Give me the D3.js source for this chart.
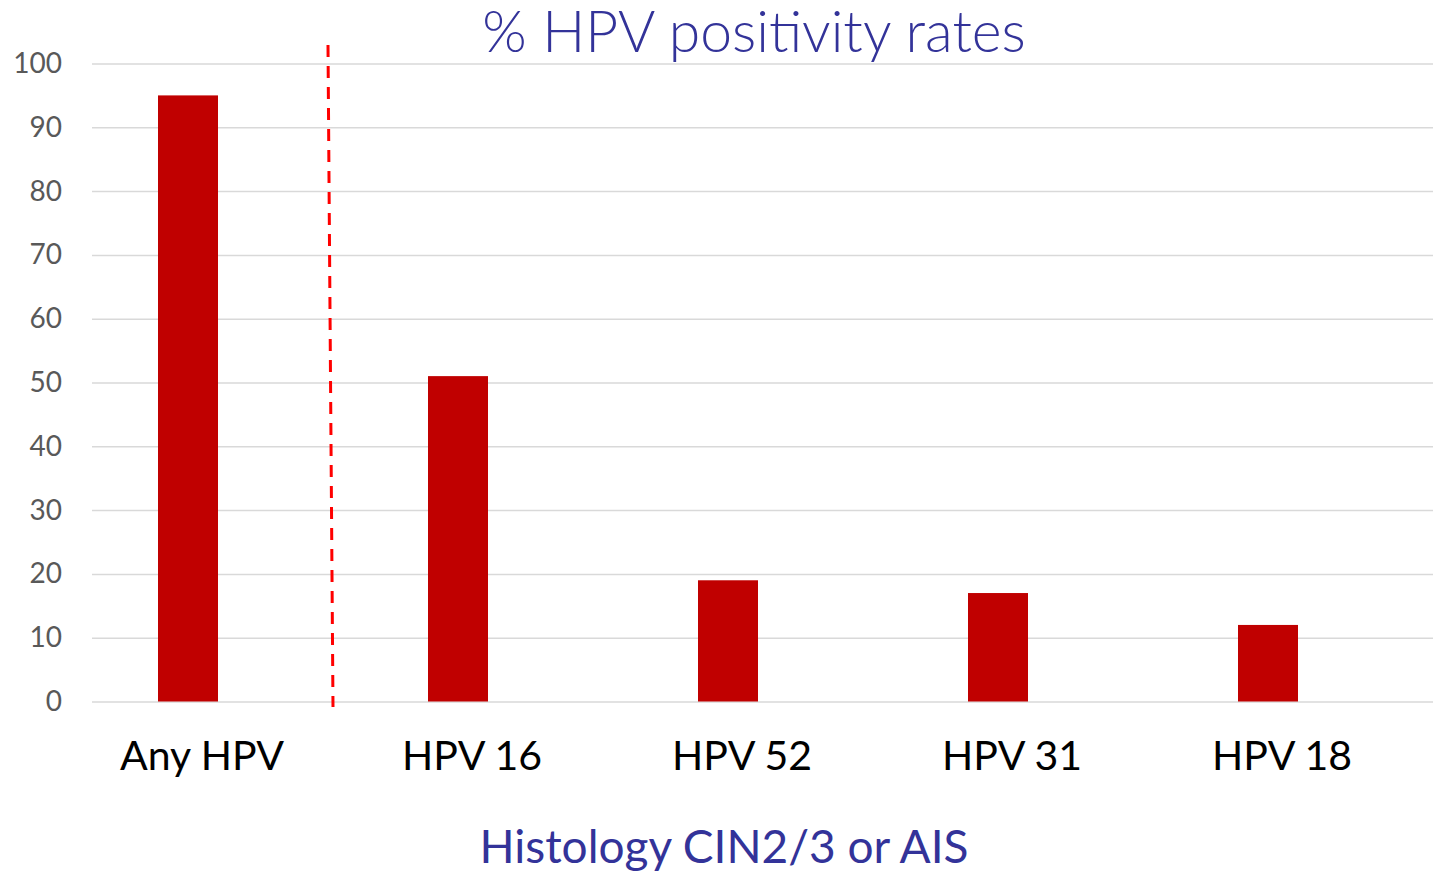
<!DOCTYPE html>
<html>
<head>
<meta charset="utf-8">
<script src="https://cdn.jsdelivr.net/npm/d3@7"></script>
<style>
  body { margin: 0; background: #fff; }
  svg { display: block; }
</style>
</head>
<body>
<svg id="chart"></svg>
<script>
// chart data
const categories = ['Any HPV', 'HPV 16', 'HPV 52', 'HPV 31', 'HPV 18'];
const positivity = [95, 51, 19, 17, 12];
const yTicks = [0, 10, 20, 30, 40, 50, 60, 70, 80, 90, 100];
const chartTitle = '% HPV positivity rates';
const xTitle = 'Histology CIN2/3 or AIS';

const width = 1433, height = 874;
const font = 'Lato, "Open Sans", sans-serif';

const svg = d3.select('#chart')
  .attr('width', width)
  .attr('height', height);

const y = d3.scaleLinear()
  .domain([0, 100])
  .range([701.5, 63.5]);

// step 270px, bars 60px wide
const x = d3.scaleBand()
  .domain(categories)
  .range([53, 1403])
  .paddingInner(7 / 9)
  .paddingOuter(7 / 18);

// gridlines + tick labels
const yAxis = d3.axisLeft(y)
  .tickValues(yTicks)
  .tickSize(-(1433 - 92))
  .tickPadding(30);

const gy = svg.append('g')
  .attr('transform', 'translate(92,0)')
  .call(yAxis);
gy.select('.domain').remove();
gy.selectAll('.tick line')
  .attr('stroke', '#d9d9d9')
  .attr('stroke-width', 1.5);
gy.selectAll('.tick text')
  .attr('fill', '#595959')
  .style('font-family', font)
  .style('font-size', '28px');

// bars
svg.append('g')
  .selectAll('rect')
  .data(categories)
  .join('rect')
  .attr('x', d => x(d))
  .attr('y', (d, i) => y(positivity[i]))
  .attr('width', x.bandwidth())
  .attr('height', (d, i) => y(0) - y(positivity[i]))
  .attr('fill', '#c00000');

// dashed separator between first and second category
const mid = (x(categories[0]) + x(categories[1]) + x.bandwidth()) / 2;
svg.append('line')
  .attr('x1', mid + 5)
  .attr('y1', 45)
  .attr('x2', mid + 10)
  .attr('y2', 707)
  .attr('stroke', '#ff0000')
  .attr('stroke-width', 3)
  .attr('stroke-dasharray', '12,9');

// category labels
svg.append('g')
  .selectAll('text')
  .data(categories)
  .join('text')
  .attr('x', d => x(d) + x.bandwidth() / 2 + 14)
  .attr('y', 770)
  .attr('text-anchor', 'middle')
  .attr('fill', '#000')
  .style('font-family', font)
  .style('font-size', '41px')
  .text(d => d);

// titles
svg.append('text')
  .attr('x', 754)
  .attr('y', 52)
  .attr('text-anchor', 'middle')
  .attr('fill', '#333399')
  .style('font-family', font)
  .style('font-weight', 300)
  .style('font-size', '57px')
  .text(chartTitle);

svg.append('text')
  .attr('x', 724)
  .attr('y', 863)
  .attr('text-anchor', 'middle')
  .attr('fill', '#333399')
  .style('font-family', font)
  .style('font-size', '46px')
  .text(xTitle);
</script>
</body>
</html>
